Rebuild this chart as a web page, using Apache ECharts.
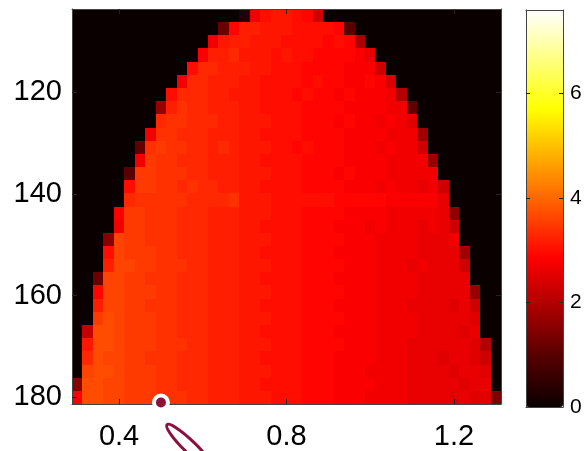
<!DOCTYPE html>
<html><head><meta charset="utf-8">
<script src="https://cdn.jsdelivr.net/npm/echarts@6/dist/echarts.min.js"></script>
<style>html,body{margin:0;padding:0;background:#fff}#c{width:586px;height:451px}</style>
</head><body><div id="c"></div><script>
// column centres (x) and row centres (y)
const xCenters = [0.3,0.325,0.35,0.375,0.4,0.425,0.45,0.475,0.5,0.525,0.55,0.575,0.6,0.625,0.65,0.675,0.7,0.725,0.75,0.775,0.8,0.825,0.85,0.875,0.9,0.925,0.95,0.975,1.0,1.025,1.05,1.075,1.1,1.125,1.15,1.175,1.2,1.225,1.25,1.275,1.3];
const yCenters = [105,107.586,110.172,112.759,115.345,117.931,120.517,123.103,125.690,128.276,130.862,133.448,136.034,138.621,141.207,143.793,146.379,148.966,151.552,154.138,156.724,159.310,161.897,164.483,167.069,169.655,172.241,174.828,177.414,180];
const xTicks = [0.4,0.8,1.2];
const yTicks = [120,140,160,180];
const colorTicks = [0,2,4,6];
const colorMin = 0, colorMax = 7.6;
// first non-zero column of each row; values (x10) from that column on, zero elsewhere
const rowStart = [16,14,13,12,11,10,9,8,8,7,6,6,5,5,5,4,4,3,3,3,2,2,2,2,1,1,1,1,0,0];
const r00 = [3,27,30,31,31,30,29,23];
const r01 = [12,29,32,32,31,31,31,30,30,30,30,29,10];
const r02 = [27,31,32,32,31,31,31,30,30,30,30,29,30,29,19];
const r03 = [28,32,32,33,31,31,31,30,31,30,30,29,29,29,29,28,26];
const r04 = [30,33,33,32,32,32,31,31,30,30,30,29,29,29,29,28,28,28,23];
const r05 = [27,33,33,32,32,32,31,31,30,30,30,30,29,30,29,29,28,28,29,28,24];
const r06 = [30,33,33,33,32,32,31,31,31,30,30,30,29,30,29,29,28,29,28,28,28,27,20];
const r07 = [17,32,34,33,33,32,32,32,31,31,30,30,30,30,29,29,29,29,28,28,28,28,27,27,11];
const r08 = [33,34,34,33,33,33,32,32,31,31,31,30,30,30,29,29,29,28,29,28,28,27,28,27,25];
const r09 = [27,34,34,33,33,33,32,32,32,31,31,30,30,30,30,29,29,29,29,28,28,28,28,27,27,27,18];
const r10 = [11,34,35,34,34,33,33,32,33,32,31,31,31,30,30,29,30,29,29,29,28,28,28,27,28,27,27,23];
const r11 = [27,35,34,34,33,33,33,32,32,32,31,31,30,30,30,30,29,29,29,29,28,28,28,28,27,27,27,27,17];
const r12 = [10,35,35,34,34,34,33,33,32,32,32,31,31,31,30,30,30,29,29,29,28,29,28,28,28,27,27,27,27,27];
const r13 = [30,35,35,34,34,33,34,33,33,32,32,31,31,30,30,30,30,29,29,29,29,28,28,28,27,28,27,27,26,27,23];
const r14 = [33,34,34,34,34,34,33,33,33,33,34,31,31,31,30,30,30,30,30,30,29,29,29,29,29,28,28,28,28,28,26];
const r15 = [28,35,35,34,34,34,33,33,33,32,32,32,31,31,31,30,30,30,29,29,29,29,28,28,28,28,27,27,27,27,27,26,16];
const r16 = [27,35,35,34,34,34,33,33,33,32,32,32,31,31,30,30,30,30,29,29,29,28,28,28,27,28,27,27,27,26,27,26,23];
const r17 = [15,36,35,35,34,34,34,33,33,33,32,32,32,31,31,31,30,30,30,29,29,29,29,28,28,28,27,27,27,27,26,26,26,27];
const r18 = [30,36,35,35,35,34,34,33,33,33,32,32,32,31,31,30,30,30,30,29,29,29,28,28,28,28,27,27,27,27,26,26,26,26,18];
const r19 = [32,36,36,35,35,34,34,34,33,33,32,32,32,31,31,31,30,30,30,29,29,29,29,28,28,28,27,27,27,26,27,26,26,26,23];
const r20 = [12,36,36,35,35,34,34,34,33,33,33,32,32,32,31,31,30,30,30,30,29,29,29,28,28,28,28,27,27,27,27,26,26,26,26,26];
const r21 = [29,36,36,35,35,35,34,34,33,33,33,32,32,32,31,31,31,30,30,30,29,29,29,29,28,28,28,27,27,27,27,26,26,26,26,26,17];
const r22 = [32,36,36,35,35,34,34,34,33,33,33,32,32,32,31,31,30,30,30,30,29,29,29,28,28,28,28,27,27,27,26,26,26,26,25,26,23];
const r23 = [35,37,36,35,35,35,34,34,33,33,33,32,32,32,31,31,31,30,30,30,29,29,29,29,28,28,28,27,27,27,27,26,26,26,26,26,25];
const r24 = [22,37,37,36,35,35,35,34,34,33,33,33,32,32,32,31,31,30,30,30,30,29,29,29,28,28,28,28,27,27,27,27,26,26,26,26,25,26];
const r25 = [31,37,37,36,35,35,35,34,34,34,33,33,32,32,32,31,31,31,30,30,30,29,29,29,29,28,28,28,27,27,27,26,26,26,26,26,26,25,20];
const r26 = [33,37,36,36,35,35,34,34,34,33,33,33,32,32,32,31,31,30,30,30,30,29,29,29,28,28,28,28,27,27,27,26,26,26,25,26,26,25,23];
const r27 = [36,37,37,36,35,35,35,34,34,33,33,33,32,32,32,31,31,31,30,30,30,29,29,29,28,28,28,27,27,27,27,26,26,26,26,25,26,26,25];
const r28 = [15,37,37,36,36,35,35,35,34,34,33,33,33,32,32,32,31,31,30,30,30,30,29,29,29,28,28,28,28,27,27,27,26,26,26,26,26,25,26,26];
const r29 = [28,37,37,36,36,35,35,35,34,34,34,33,33,32,32,32,31,31,31,30,30,30,29,29,29,28,28,28,27,27,27,27,26,26,26,26,25,26,25,25,14];
const markerPoint = [[0.5, 181.0]];

const rowsVals = [r00,r01,r02,r03,r04,r05,r06,r07,r08,r09,r10,r11,r12,r13,r14,r15,r16,r17,r18,r19,r20,r21,r22,r23,r24,r25,r26,r27,r28,r29];

// shared cell edges (midpoints between neighbouring centres)
function edgesOf(c) {
  const e = [c[0] - (c[1] - c[0]) / 2];
  for (let i = 1; i < c.length; i++) e.push((c[i - 1] + c[i]) / 2);
  e.push(c[c.length - 1] + (c[c.length - 1] - c[c.length - 2]) / 2);
  return e;
}
const xEdges = edgesOf(xCenters), yEdges = edgesOf(yCenters);

const cells = [];
yCenters.forEach((y, j) => {
  const row = rowsVals[j], s = rowStart[j];
  xCenters.forEach((x, i) => {
    const k = i - s;
    const v = (k >= 0 && k < row.length) ? row[k] / 10 : 0;
    cells.push([x, y, v, i, j]);
  });
});

const xMin = xEdges[0], xMax = xEdges[xEdges.length - 1];
const yMin = yEdges[0], yMax = yEdges[yEdges.length - 1];
const hot = ['#0b0000','#550000','#aa0000','#ff0000','#ff5500','#ffaa00','#ffff00','#ffff80','#ffffff'];
const borderCol = '#444';
const font = 'Liberation Sans, Arial, sans-serif';

function renderCell(params, api) {
  const i = api.value(3), j = api.value(4);
  const a = api.coord([xEdges[i], yEdges[j]]);
  const b = api.coord([xEdges[i + 1], yEdges[j + 1]]);
  const x0 = Math.round(Math.min(a[0], b[0])), x1 = Math.round(Math.max(a[0], b[0]));
  const y0 = Math.round(Math.min(a[1], b[1])), y1 = Math.round(Math.max(a[1], b[1]));
  return { type: 'rect', shape: { x: x0, y: y0, width: x1 - x0, height: y1 - y0 },
           style: { fill: api.visual('color') } };
}

const mainTick = { show: true, inside: true, length: 5, lineStyle: { color: '#222', width: 1 } };
const chart = echarts.init(document.getElementById('c'));
chart.setOption({
  animation: false,
  backgroundColor: '#fff',
  grid: [
    { left: 72, top: 9, width: 429, height: 398, show: false },
    { left: 526, top: 10, width: 37, height: 397, show: false }
  ],
  xAxis: [
    { type: 'value', gridIndex: 0, position: 'bottom', min: xMin, max: xMax, z: 10,
      axisLine: { show: true, onZero: false, lineStyle: { color: borderCol, width: 1 } },
      axisTick: Object.assign({ customValues: xTicks }, mainTick),
      axisLabel: { customValues: xTicks, margin: 18, fontSize: 29, color: '#000', fontFamily: font,
                   formatter: v => v.toFixed(1) },
      splitLine: { show: false } },
    { type: 'value', gridIndex: 0, position: 'top', min: xMin, max: xMax, z: 10,
      axisLine: { show: true, onZero: false, lineStyle: { color: borderCol, width: 1 } },
      axisTick: Object.assign({ customValues: xTicks }, mainTick),
      axisLabel: { show: false }, splitLine: { show: false } },
    { type: 'value', gridIndex: 1, position: 'bottom', min: 0, max: 1, z: 10,
      axisLine: { show: true, onZero: false, lineStyle: { color: borderCol, width: 1 } },
      axisTick: { show: false }, axisLabel: { show: false }, splitLine: { show: false } },
    { type: 'value', gridIndex: 1, position: 'top', min: 0, max: 1, z: 10,
      axisLine: { show: true, onZero: false, lineStyle: { color: borderCol, width: 1 } },
      axisTick: { show: false }, axisLabel: { show: false }, splitLine: { show: false } }
  ],
  yAxis: [
    { type: 'value', gridIndex: 0, position: 'left', inverse: true, min: yMin, max: yMax, z: 10,
      axisLine: { show: true, onZero: false, lineStyle: { color: borderCol, width: 1 } },
      axisTick: Object.assign({ customValues: yTicks }, mainTick),
      axisLabel: { customValues: yTicks, margin: 10, fontSize: 29, color: '#000', fontFamily: font },
      splitLine: { show: false } },
    { type: 'value', gridIndex: 0, position: 'right', inverse: true, min: yMin, max: yMax, z: 10,
      axisLine: { show: true, onZero: false, lineStyle: { color: borderCol, width: 1 } },
      axisTick: Object.assign({ customValues: yTicks }, mainTick),
      axisLabel: { show: false }, splitLine: { show: false } },
    { type: 'value', gridIndex: 1, position: 'left', min: colorMin, max: colorMax, z: 10,
      axisLine: { show: true, onZero: false, lineStyle: { color: borderCol, width: 1 } },
      axisTick: { show: true, inside: true, length: 4, customValues: colorTicks.slice(1), lineStyle: { color: '#222' } },
      axisLabel: { show: false }, splitLine: { show: false } },
    { type: 'value', gridIndex: 1, position: 'right', min: colorMin, max: colorMax, z: 10,
      axisLine: { show: true, onZero: false, lineStyle: { color: borderCol, width: 1 } },
      axisTick: { show: true, inside: true, length: 4, customValues: colorTicks.slice(1), lineStyle: { color: '#222' } },
      axisLabel: { customValues: colorTicks, margin: 7, fontSize: 21, color: '#000', fontFamily: font },
      splitLine: { show: false } }
  ],
  visualMap: {
    type: 'continuous', min: colorMin, max: colorMax, dimension: 2, seriesIndex: 0,
    orient: 'vertical', left: 526, top: 10, itemWidth: 37, itemHeight: 397, padding: 0,
    calculable: false, realtime: false, hoverLink: false, text: null, showLabel: false, z: 4,
    inRange: { color: hot }
  },
  series: [
    { type: 'custom', xAxisIndex: 0, yAxisIndex: 0, renderItem: renderCell, data: cells,
      dimensions: ['x', 'y', 'v', 'i', 'j'], encode: { x: 0, y: 1 }, clip: true, silent: true },
    { type: 'scatter', xAxisIndex: 0, yAxisIndex: 0, data: markerPoint, symbol: 'circle', symbolSize: 14,
      clip: false, z: 20, silent: true,
      itemStyle: { color: '#8b1040', borderColor: '#ffffff', borderWidth: 4, opacity: 1 } }
  ],
  graphic: [
    { type: 'ellipse', x: 190, y: 447, rotation: -0.77, z: 100, silent: true,
      shape: { cx: 0, cy: 0, rx: 32, ry: 6 },
      style: { fill: '#ffffff', stroke: '#8b1040', lineWidth: 3 } }
  ]
});
</script></body></html>
